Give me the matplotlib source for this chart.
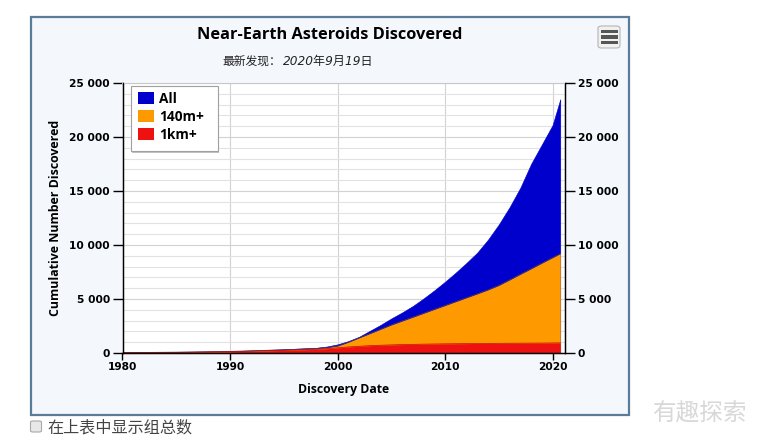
import matplotlib
matplotlib.use("Agg")
import matplotlib.pyplot as plt
from matplotlib.patches import Rectangle, FancyBboxPatch
from matplotlib.ticker import MultipleLocator, FixedLocator

plt.rcParams['font.family'] = ['Open Sans', 'Noto Sans CJK SC', 'DejaVu Sans']

W, H = 759, 444

years = [1980, 1985, 1990, 1993, 1995, 1998, 1999, 2000, 2001, 2002, 2003, 2004, 2005,
         2006, 2007, 2008, 2009, 2010, 2011, 2012, 2013, 2014, 2015, 2016, 2017, 2018,
         2019, 2020, 2020.72]
all_neas = [50, 90, 170, 270, 350, 480, 600, 800, 1100, 1500, 2050, 2600, 3200,
            3750, 4350, 5050, 5800, 6600, 7450, 8350, 9300, 10500, 11900, 13500, 15300, 17500,
            19300, 21100, 23500]
m140 = [40, 80, 150, 240, 300, 420, 500, 650, 1000, 1400, 1800, 2200, 2600,
        2960, 3320, 3680, 4040, 4400, 4760, 5120, 5480, 5850, 6260, 6770, 7290, 7800,
        8320, 8830, 9200]
km1 = [30, 60, 120, 190, 240, 340, 400, 480, 560, 620, 680, 720, 750,
       780, 800, 820, 835, 850, 860, 870, 880, 890, 900, 905, 910, 915,
       920, 930, 940]

y_ticks = [0, 5000, 10000, 15000, 20000, 25000]
y_labels = ['0', '5 000', '10 000', '15 000', '20 000', '25 000']
x_ticks = [1980, 1990, 2000, 2010, 2020]

series_names = ['All', '140m+', '1km+']
series_colors = ['#0000cc', '#ff9900', '#ee1111']


def fx(px):
    return px / W


def fy(py):
    return 1 - py / H


fig = plt.figure(figsize=(W / 100, H / 100), dpi=100, facecolor='white')

# outer panel, behind the axes
fig.patches.append(Rectangle((fx(31), fy(415)), 598 / W, 398 / H, transform=fig.transFigure,
                             facecolor='#f4f7fc', edgecolor='#5b7c99', lw=1.6, zorder=-5))

ax = fig.add_axes([fx(122.5), fy(353), (565 - 122.5) / W, (353 - 83) / H])
ax.set_xlim(1980, 2021.16)
ax.set_ylim(0, 25000)
ax.set_facecolor('white')

ax.xaxis.set_major_locator(FixedLocator(x_ticks))
ax.yaxis.set_major_locator(FixedLocator(y_ticks))
ax.yaxis.set_minor_locator(MultipleLocator(1000))
ax.grid(True, which='major', color='#d2d2d2', lw=0.8)
ax.grid(True, which='minor', axis='y', color='#e2e2e2', lw=0.8)
ax.set_axisbelow(True)

ax.fill_between(years, 0, all_neas, color=series_colors[0], lw=0.4)
ax.fill_between(years, 0, m140, color=series_colors[1], lw=0)
ax.plot(years, m140, color='#5a3a50', lw=0.5)
ax.fill_between(years, 0, km1, color=series_colors[2], lw=0)
ax.plot(years, km1, color='#c00808', lw=0.5)

ax.set_yticklabels(y_labels, fontsize=7.7, fontweight='bold', family=['DejaVu Sans'])
ax.set_xticklabels([str(v) for v in x_ticks], fontsize=7.7, fontweight='bold', family=['DejaVu Sans'])
ax.tick_params(axis='y', which='major', length=7, width=1, pad=2, color='black')
ax.tick_params(axis='y', which='minor', length=0)
ax.tick_params(axis='x', length=5, width=1, pad=1.5, color='black')

ax.spines['top'].set_color('#c8c8c8')
ax.spines['top'].set_linewidth(0.8)
for side in ['left', 'right', 'bottom']:
    ax.spines[side].set_color('black')
    ax.spines[side].set_linewidth(1.0)

ax2 = ax.twinx()
ax2.set_ylim(0, 25000)
ax2.yaxis.set_major_locator(FixedLocator(y_ticks))
ax2.set_yticklabels(y_labels, fontsize=7.7, fontweight='bold', family=['DejaVu Sans'])
ax2.tick_params(axis='y', length=7, width=1, pad=2)
ax2.spines['top'].set_visible(False)

ax.set_xlabel('Discovery Date', fontsize=8.8, fontweight='bold', labelpad=8)
ax.set_ylabel('Cumulative Number Discovered', fontsize=8.9, fontweight='bold', labelpad=5)

fig.text(fx(330), fy(35), 'Near-Earth Asteroids Discovered', fontsize=11.8, fontweight='bold',
         ha='center', va='center')
fig.text(fx(222), fy(61), '最新发现：', fontsize=8.5, ha='left', va='center', color='#222222',
         family=['Noto Sans CJK SC'])
fig.text(fx(283), fy(61), '2020年9月19日', fontsize=8.7, ha='left', va='center', color='#222222',
         style='italic', family=['DejaVu Sans', 'Noto Sans CJK SC'])

# legend box with shadow
fig.patches.append(Rectangle((fx(132), fy(153)), 87 / W, 65 / H, transform=fig.transFigure,
                             facecolor='#999999', edgecolor='none', alpha=0.6, zorder=5))
fig.patches.append(Rectangle((fx(130.5), fy(151)), 87 / W, 65 / H, transform=fig.transFigure,
                             facecolor='white', edgecolor='#a0a0a0', lw=0.8, zorder=6))
for i, (name, col) in enumerate(zip(series_names, series_colors)):
    top = 92.5 + i * 18
    fig.patches.append(Rectangle((fx(138), fy(top + 12)), 16 / W, 12 / H, transform=fig.transFigure,
                                 facecolor=col, edgecolor='none', zorder=7))
    fig.text(fx(159), fy(top + 6.5), name, fontsize=9.8, fontweight='bold', ha='left', va='center',
             zorder=8)

# menu button
fig.patches.append(FancyBboxPatch((fx(598), fy(48)), 22 / W, 22 / H, transform=fig.transFigure,
                                  boxstyle='round,pad=0,rounding_size=0.005', facecolor='#f0f0f0',
                                  edgecolor='#b5b5b5', lw=0.8))
for py in [31.5, 37, 42.5]:
    fig.patches.append(Rectangle((fx(600.5), fy(py + 1.5)), 17 / W, 3 / H, transform=fig.transFigure,
                                 facecolor='#555555', edgecolor='none'))

# checkbox and caption below the panel
fig.patches.append(FancyBboxPatch((fx(30.5), fy(432)), 11 / W, 11 / H, transform=fig.transFigure,
                                  boxstyle='round,pad=0,rounding_size=0.003', facecolor='#e8e8e8',
                                  edgecolor='#a8a8a8', lw=0.8))
fig.text(fx(47), fy(428), '在上表中显示组总数', fontsize=11.6, color='#444444', ha='left', va='center',
         family=['Noto Sans CJK SC'])

# watermark
fig.text(fx(699), fy(414), '有趣探索', fontsize=17, color='#d8d8d8', ha='center', va='center',
         family=['Noto Sans CJK SC'])

fig.savefig('out.png', dpi=100, facecolor='white')
